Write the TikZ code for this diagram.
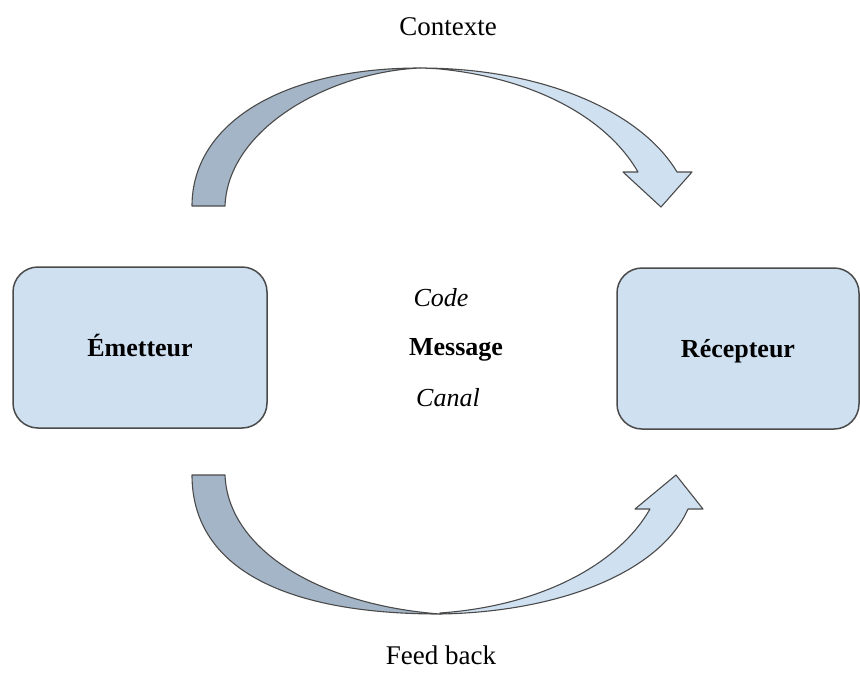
\documentclass[tikz,border=0pt]{standalone}
\usepackage{fontspec}
\setmainfont{Liberation Serif}
\definecolor{boxfill}{HTML}{CFE0F1}
\definecolor{backfill}{HTML}{A4B5C7}
\definecolor{edge}{HTML}{4A4A4A}
\begin{document}
\begin{tikzpicture}[x=1pt,y=-1pt,
  party/.style={draw=edge, line width=1.5pt, fill=boxfill, rounded corners=25pt,
    minimum height=161pt, text height=19pt, text depth=2pt,
    font=\fontsize{26}{30}\selectfont\bfseries},
  lbl/.style={font=\fontsize{27}{31}\selectfont},
  frontband/.style={draw=edge, line width=1.1pt, fill=boxfill, line join=round},
  backband/.style={draw=edge, line width=1.1pt, fill=backfill, line join=round}]
\useasboundingbox (0,0) rectangle (860,691);

% sender and receiver
\node[party, minimum width=254pt] (em) at (140,347.5) {Émetteur};
\node[party, minimum width=242pt] (rec) at (738,348.5) {Récepteur};

% message, code and channel
\node[lbl, font=\fontsize{26}{30}\selectfont\bfseries] (msg) at (456,350) {Message};
\node[lbl, font=\fontsize{26}{30}\selectfont\itshape] (code) at (441,298) {Code};
\node[lbl, font=\fontsize{26}{30}\selectfont\itshape] (canal) at (448,398) {Canal};

% context and feedback labels
\node[lbl] (ctx) at (448,27) {Contexte};
\node[lbl] (fb) at (441,655) {Feed back};

% upper curved arrow: back face then front face with head
\path[backband] (192,206) .. controls (192,123) and (283,68) .. (420,68)
  .. controls (330,72) and (228,128) .. (225,206) -- cycle;
\path[frontband] (420,68) .. controls (540,68) and (640,110) .. (677,172)
  -- (692,172) -- (661,207) -- (623,172) -- (638,172)
  .. controls (605,115) and (530,78) .. (440,69)
  .. controls (434,68.5) and (427,68.2) .. (420,68) -- cycle;

% lower curved arrow: back face then front face with head
\path[backband] (192,475) .. controls (192,565) and (279,614) .. (440,614)
  .. controls (320,605) and (228,550) .. (225,475) -- cycle;
\path[frontband] (440,614) .. controls (560,612) and (660,572) .. (688,509)
  -- (703,509) -- (676,475) -- (635,509) -- (650,509)
  .. controls (618,565) and (540,606) .. (440,613) -- cycle;
\end{tikzpicture}
\end{document}
